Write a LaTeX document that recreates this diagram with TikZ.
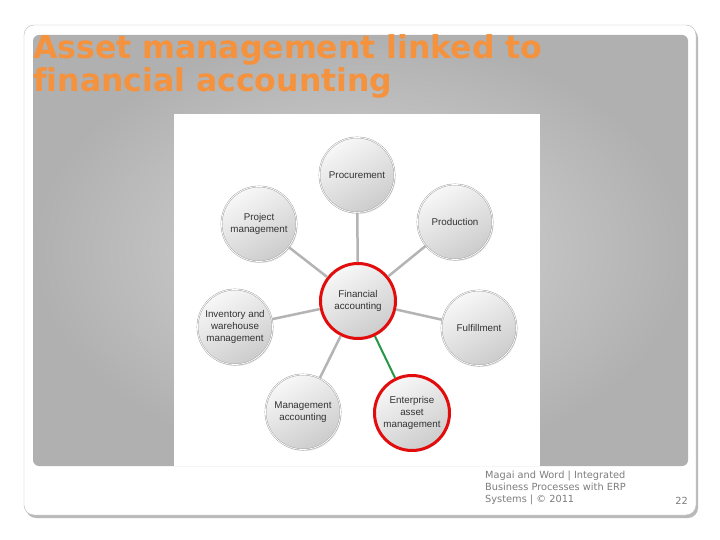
\documentclass[tikz,border=0pt]{standalone}
\usepackage{fontspec}
\setmainfont{Liberation Sans}
\newfontfamily\versans[Ligatures=NoCommon]{DejaVu Sans}
\usetikzlibrary{shadows}
\definecolor{titleorange}{RGB}{245,146,62}
\definecolor{ringred}{RGB}{226,12,12}
\definecolor{linkgreen}{RGB}{38,150,72}
\definecolor{linkgray}{RGB}{180,180,180}
\definecolor{footgray}{RGB}{125,125,125}
\begin{document}
\begin{tikzpicture}[x=1pt, y=-1pt,
	bubble/.style={circle, minimum size=75pt, inner sep=0pt, align=center,
		top color=gray!6, bottom color=gray!40, shading angle=30,
		font=\fontsize{9.8}{12}\selectfont, text=black!80,
		drop shadow={opacity=0.22, shadow xshift=1pt, shadow yshift=-1.5pt}},
	module/.style={bubble, draw=gray!80, double=white, double distance=0.8pt},
	focus/.style={bubble, draw=ringred, line width=3pt},
	link/.style={draw=linkgray, line width=2.5pt},
	assetlink/.style={draw=linkgreen, line width=2pt}]
	\useasboundingbox (0,0) rectangle (720,540);
	
	\fill [gray!55, rounded corners=10pt] (26,28) rectangle (698,518);
	\filldraw [draw=gray!55, fill=white, rounded corners=10pt] (24,25) rectangle (696,515);
	\shade [rounded corners=6pt, inner color=gray!30, outer color=gray!62] (33,35) rectangle (688,466);
	\fill [white] (174,114) rectangle (540,466);
	
	\node [anchor=base west, inner sep=0pt, text=titleorange, font=\versans\bfseries\fontsize{31.5}{33}\selectfont] (titlea) at (33,59) {Asset management linked to};
	\node [anchor=base west, inner sep=0pt, text=titleorange, font=\versans\bfseries\fontsize{31.5}{33}\selectfont] (titleb) at (33,92) {financial accounting};
	
	\node [focus] (fin) at (358,301) {Financial\\accounting};
	\node [module] (proc) at (357,175) {Procurement};
	\node [module] (proj) at (259,224) {Project\\management};
	\node [module] (prod) at (455,222) {Production};
	\node [module] (inv) at (235,327) {Inventory and\\warehouse\\management};
	\node [module] (fulf) at (479,328) {Fulfillment};
	\node [module] (macc) at (303,412) {Management\\accounting};
	\node [focus] (eam) at (412,413) {Enterprise\\asset\\management};
	
	\draw [link] (fin) -- (proc);
	\draw [link] (fin) -- (proj);
	\draw [link] (fin) -- (prod);
	\draw [link] (fin) -- (inv);
	\draw [link] (fin) -- (fulf);
	\draw [link] (fin) -- (macc);
	\draw [assetlink] (fin) -- (eam);
	
	\node [anchor=north west, inner sep=0pt, align=left, text=footgray, font=\versans\fontsize{9.8}{12}\selectfont] (source) at (485,471) {Magai and Word | Integrated\\Business Processes with ERP\\Systems | \textcopyright{} 2011};
	\node [anchor=base east, inner sep=0pt, text=footgray, font=\versans\fontsize{9.8}{12}\selectfont] (pagenum) at (688,504) {22};
\end{tikzpicture}
\end{document}
